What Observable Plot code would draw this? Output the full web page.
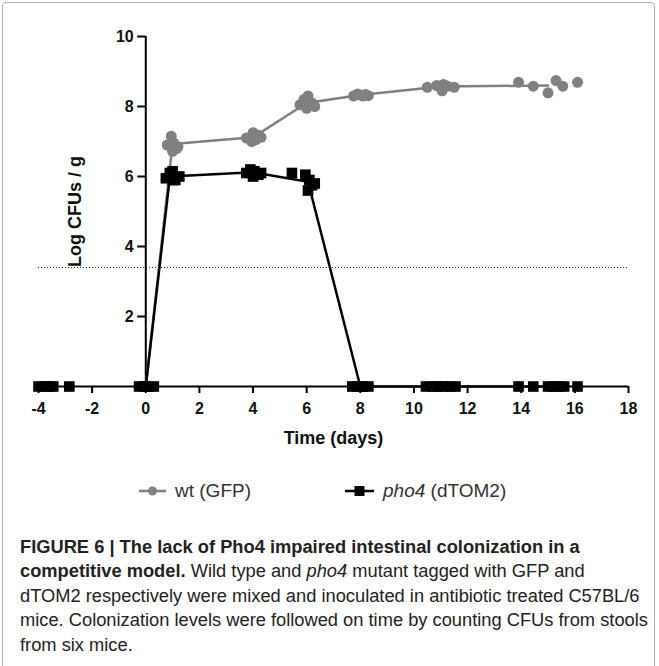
<!DOCTYPE html>
<html>
<head>
<meta charset="utf-8">
<script src="https://cdn.jsdelivr.net/npm/d3@7"></script>
<script src="https://cdn.jsdelivr.net/npm/@observablehq/plot@0.6"></script>
<style>
  html, body { margin: 0; padding: 0; background: #fff; }
  body { width: 659px; height: 666px; position: relative; overflow: hidden; font-family: "Liberation Sans", Arial, sans-serif; }
  #frame { position: absolute; left: 2px; top: 2px; width: 653px; height: 668px; border: 1px solid #b0b0b0; border-radius: 4px; box-sizing: border-box; }
  #chart { position: absolute; left: 0; top: 0; }
  #legend { position: absolute; top: 480px; left: 0; width: 659px; height: 24px; font-size: 19px; color: #333; }
  .leg { position: absolute; display: flex; align-items: center; white-space: nowrap; }
  .leg svg { margin-right: 9px; }
  #caption { position: absolute; left: 20px; top: 535px; width: 640px; font-size: 18.3px; line-height: 24.4px; color: #222; }
  #caption div { white-space: nowrap; }
</style>
</head>
<body>
<div id="frame"></div>
<div id="chart"></div>
<div id="legend">
  <div class="leg" style="left:139px;top:0;">
    <svg width="27" height="12"><line x1="0" y1="6" x2="27" y2="6" stroke="#808080" stroke-width="2.5"/><circle cx="13.5" cy="6" r="4.5" fill="#808080"/></svg>
    <span>wt (GFP)</span>
  </div>
  <div class="leg" style="left:345px;top:0;">
    <svg width="29" height="12"><line x1="0" y1="6" x2="29" y2="6" stroke="#000" stroke-width="2.5"/><rect x="9.5" y="1" width="10" height="10" fill="#000"/></svg>
    <span><i>pho4</i> (dTOM2)</span>
  </div>
</div>
<div id="caption">
  <div><b>FIGURE 6 | The lack of Pho4 impaired intestinal colonization in a</b></div>
  <div><b>competitive model.</b> Wild type and <i>pho4</i> mutant tagged with GFP and</div>
  <div>dTOM2 respectively were mixed and inoculated in antibiotic treated C57BL/6</div>
  <div>mice. Colonization levels were followed on time by counting CFUs from stools</div>
  <div>from six mice.</div>
</div>
<script>
// ---- data ----
const xTicks = [-4, -2, 0, 2, 4, 6, 8, 10, 12, 14, 16, 18];
const yTicks = [2, 4, 6, 8, 10];
const detectionLimit = 3.4;

// wt (GFP): individual mice
const wtDays = [0, 0.8, 0.95, 1.05, 1.2, 1.0, 1.15,
  3.75, 4.0, 4.1, 4.3, 3.95, 4.2,
  5.75, 5.9, 6.05, 6.2, 6.0, 6.3,
  7.75, 7.9, 8.0, 8.1, 8.2, 8.3,
  10.5, 10.85, 11.05, 11.1, 11.25, 11.5,
  13.9, 14.45, 15.0, 15.3, 15.55, 16.1];
const wtLog = [0, 6.9, 7.15, 6.95, 6.85, 6.72, 6.8,
  7.1, 7.25, 7.05, 7.12, 7.0, 7.18,
  8.05, 8.2, 8.3, 8.1, 7.95, 8.0,
  8.3, 8.36, 8.33, 8.3, 8.34, 8.31,
  8.55, 8.6, 8.45, 8.63, 8.58, 8.55,
  8.69, 8.58, 8.39, 8.74, 8.58, 8.69];
// wt mean line
const wtMeanDays = [0, 1.0, 4.0, 6.0, 8.0, 11.0, 15.0];
const wtMeanLog = [0, 6.93, 7.12, 8.1, 8.33, 8.57, 8.6];

// pho4 (dTOM2): individual mice
const phoDays = [-4.0, -3.8, -3.6, -3.45, -2.85,
  -0.25, -0.05, 0.1, 0.3,
  0.75, 0.9, 1.0, 1.1, 1.25, 1.0,
  3.75, 3.9, 4.05, 4.2, 4.3, 4.0,
  5.45, 5.95, 6.1, 6.2, 6.05, 6.3,
  7.7, 7.9, 8.1, 8.3,
  10.45, 10.7, 10.9, 11.1, 11.35, 11.55,
  13.9, 14.45, 15.0, 15.2, 15.4, 15.6, 16.1];
const phoLog = [0, 0, 0, 0, 0,
  0, 0, 0, 0,
  5.95, 6.1, 6.15, 5.9, 6.0, 5.9,
  6.1, 6.2, 6.15, 6.05, 6.1, 6.0,
  6.1, 6.05, 5.9, 5.75, 5.6, 5.8,
  0, 0, 0, 0,
  0, 0, 0, 0, 0, 0,
  0, 0, 0, 0, 0, 0, 0];
// pho4 mean line
const phoMeanDays = [0, 0.9, 4.0, 6.05, 8.0, 11.0, 15.0];
const phoMeanLog = [0, 6.0, 6.12, 5.85, 0, 0, 0];

// ---- build tables ----
const wt = wtDays.map((d, i) => ({day: d, v: wtLog[i]}));
const wtMean = wtMeanDays.map((d, i) => ({day: d, v: wtMeanLog[i]}));
const pho = phoDays.map((d, i) => ({day: d, v: phoLog[i]}));
const phoMean = phoMeanDays.map((d, i) => ({day: d, v: phoMeanLog[i]}));

const gray = "#808080";
const chart = Plot.plot({
  width: 659,
  height: 460,
  marginLeft: 38,
  marginRight: 31,
  marginTop: 36,
  marginBottom: 74,
  style: {fontFamily: "'Liberation Sans', Arial, sans-serif", background: "transparent"},
  x: {type: "linear", domain: [-4, 18], axis: null},
  y: {type: "linear", domain: [0, 10], axis: null},
  marks: [
    // detection limit
    Plot.ruleY([detectionLimit], {x1: -4, x2: 18, stroke: "#222", strokeWidth: 1, strokeDasharray: "1,2"}),
    // x axis
    Plot.ruleY([0], {x1: -4, x2: 18, stroke: "#000", strokeWidth: 2}),
    Plot.ruleX(xTicks, {x: d => d, y1: 0, y2: -0.2, stroke: "#000", strokeWidth: 2}),
    Plot.text(xTicks, {x: d => d, y: 0, text: d => String(d), dy: 22, fontWeight: "bold", fontSize: 16, fill: "#111"}),
    Plot.text(["Time (days)"], {x: 7, y: 0, dy: 52, fontWeight: "bold", fontSize: 18, fill: "#111"}),
    // y axis at x = 0
    Plot.ruleX([0], {y1: 0, y2: 10, stroke: "#000", strokeWidth: 2}),
    Plot.ruleY(yTicks, {y: d => d, x1: -0.3, x2: 0, stroke: "#000", strokeWidth: 2}),
    Plot.text(yTicks, {x: 0, y: d => d, text: d => String(d), dx: -12, textAnchor: "end", fontWeight: "bold", fontSize: 16, fill: "#111"}),
    Plot.text(["Log CFUs / g"], {x: -4, y: 5, dx: 37, dy: 0, rotate: -90, fontWeight: "bold", fontSize: 18, fill: "#111"}),
    // wt
    Plot.line(wtMean, {x: "day", y: "v", stroke: gray, strokeWidth: 2.5}),
    Plot.dot(wt, {x: "day", y: "v", r: 5.5, fill: gray, stroke: "none"}),
    // pho4
    Plot.line(phoMean, {x: "day", y: "v", stroke: "#000", strokeWidth: 2.5}),
    Plot.dot(pho, {x: "day", y: "v", symbol: "square", r: 6, fill: "#000", stroke: "none"})
  ]
});
document.getElementById("chart").appendChild(chart);
</script>
</body>
</html>
